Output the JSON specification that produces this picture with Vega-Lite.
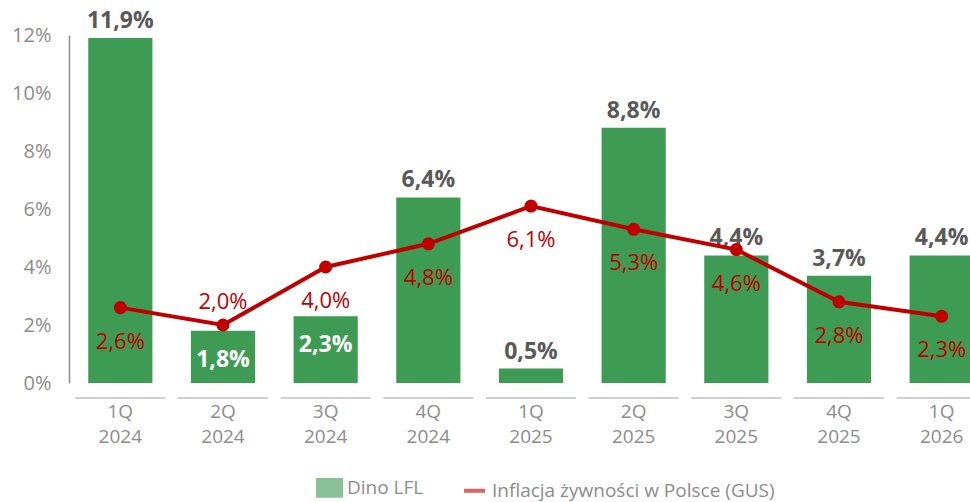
{
  "$schema": "https://vega.github.io/schema/vega-lite/v6.json",
  "width": 901,
  "height": 348,
  "autosize": {"type": "none"},
  "padding": {"left": 69, "top": 35, "right": 0, "bottom": 119},
  "config": {
    "view": {"stroke": null},
    "font": "Open Sans",
    "locale": {"number": {"decimal": ",", "thousands": " ", "grouping": [3], "currency": ["", " zł"]}}
  },
  "data": {
    "values": [
      {"q": "1Q 2024", "dino": 0.119, "infl": 0.026},
      {"q": "2Q 2024", "dino": 0.018, "infl": 0.020},
      {"q": "3Q 2024", "dino": 0.023, "infl": 0.040},
      {"q": "4Q 2024", "dino": 0.064, "infl": 0.048},
      {"q": "1Q 2025", "dino": 0.005, "infl": 0.061},
      {"q": "2Q 2025", "dino": 0.088, "infl": 0.053},
      {"q": "3Q 2025", "dino": 0.044, "infl": 0.046},
      {"q": "4Q 2025", "dino": 0.037, "infl": 0.028},
      {"q": "1Q 2026", "dino": 0.044, "infl": 0.023}
    ]
  },
  "encoding": {
    "x": {
      "field": "q", "type": "nominal", "sort": null,
      "scale": {"range": [0, 924], "paddingInner": 0.375, "paddingOuter": 0.1875},
      "axis": {
        "title": null, "domain": false, "ticks": false, "labelAngle": 0,
        "labelExpr": "split(datum.label, ' ')",
        "labelFontSize": 19, "labelColor": "#8C8C8C", "labelPadding": 19,
        "labelLineHeight": 25, "labelBaseline": "top"
      }
    }
  },
  "layer": [
    {
      "mark": {"type": "tick", "color": "#A6A6A6", "size": 90, "thickness": 1.5, "yOffset": 15},
      "encoding": {"y": {"datum": 0, "type": "quantitative"}}
    },
    {
      "mark": {"type": "bar"},
      "encoding": {
        "y": {
          "field": "dino", "type": "quantitative",
          "scale": {"domain": [0, 0.12], "nice": false},
          "axis": {
            "title": null, "format": ".0%", "grid": false, "ticks": false,
            "values": [0, 0.02, 0.04, 0.06, 0.08, 0.1, 0.12],
            "domainColor": "#8C8C8C", "domainWidth": 1.5,
            "labelFontSize": 20, "labelColor": "#8C8C8C", "labelPadding": 18
          }
        },
        "color": {
          "datum": "Dino LFL", "type": "nominal",
          "scale": {"domain": ["Dino LFL", "Inflacja żywności w Polsce (GUS)"], "range": ["#3E9B53", "#C00000"]},
          "legend": {
            "title": null, "orient": "none", "legendX": 248, "legendY": 440,
            "direction": "horizontal", "columnPadding": 32, "symbolSize": 440,
            "labelFontSize": 19, "labelColor": "#8C8C8C", "labelLimit": 400, "labelOffset": 5,
            "encode": {
              "symbols": {
                "update": {
                  "shape": {"signal": "datum.value === 'Dino LFL' ? 'M-1.1,-0.75H1.1V0.75H-1.1Z' : 'stroke'"},
                  "fill": {"signal": "datum.value === 'Dino LFL' ? '#3E9B53' : 'transparent'"},
                  "stroke": {"signal": "datum.value === 'Dino LFL' ? 'transparent' : '#C00000'"},
                  "strokeWidth": {"value": 4},
                  "opacity": {"value": 0.6}
                }
              }
            }
          }
        }
      }
    },
    {
      "transform": [{"filter": "datum.q !== '2Q 2024' && datum.q !== '3Q 2024'"}],
      "mark": {"type": "text", "fontSize": 23, "fontWeight": "bold", "color": "#595959", "baseline": "bottom", "dy": -5},
      "encoding": {
        "y": {"field": "dino", "type": "quantitative"},
        "text": {"field": "dino", "type": "quantitative", "format": ".1%"}
      }
    },
    {
      "transform": [{"filter": "datum.q === '2Q 2024' || datum.q === '3Q 2024'"}],
      "mark": {"type": "text", "fontSize": 23, "fontWeight": "bold", "color": "#FFFFFF", "baseline": "middle", "dy": 29},
      "encoding": {
        "y": {"field": "dino", "type": "quantitative"},
        "text": {"field": "dino", "type": "quantitative", "format": ".1%"}
      }
    },
    {
      "mark": {"type": "line", "strokeWidth": 4},
      "encoding": {
        "y": {"field": "infl", "type": "quantitative"},
        "color": {"datum": "Inflacja żywności w Polsce (GUS)", "type": "nominal"}
      }
    },
    {
      "mark": {"type": "point", "filled": true, "size": 170, "opacity": 1, "color": "#C00000"},
      "encoding": {"y": {"field": "infl", "type": "quantitative"}}
    },
    {
      "transform": [{"filter": "datum.q !== '2Q 2024'"}],
      "mark": {"type": "text", "fontSize": 22, "color": "#C00000", "baseline": "middle", "dy": 34},
      "encoding": {
        "y": {"field": "infl", "type": "quantitative"},
        "text": {"field": "infl", "type": "quantitative", "format": ".1%"}
      }
    },
    {
      "transform": [{"filter": "datum.q === '2Q 2024'"}],
      "mark": {"type": "text", "fontSize": 22, "color": "#C00000", "baseline": "middle", "dy": -23},
      "encoding": {
        "y": {"field": "infl", "type": "quantitative"},
        "text": {"field": "infl", "type": "quantitative", "format": ".1%"}
      }
    }
  ]
}
